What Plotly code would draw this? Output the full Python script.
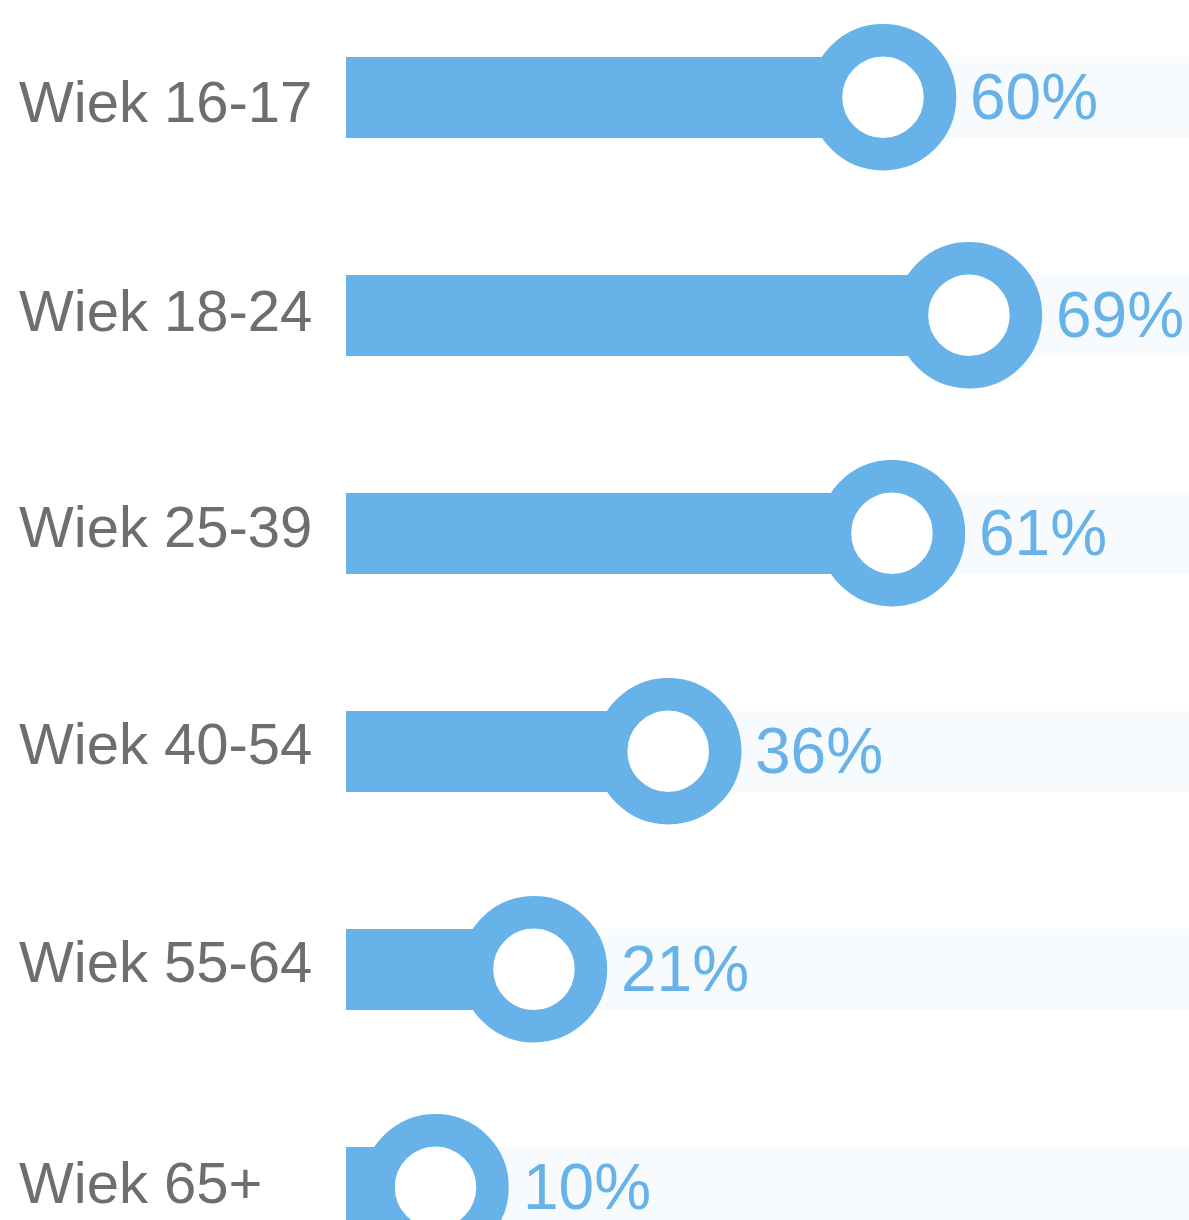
import plotly.graph_objects as go

categories = ["Wiek 16-17", "Wiek 18-24", "Wiek 25-39", "Wiek 40-54", "Wiek 55-64", "Wiek 65+"]
# marker / bar positions (percent)
values = [60, 69.6, 61, 36, 21, 10]
value_labels = ["60%", "69%", "61%", "36%", "21%", "10%"]

BLUE = "#67b2e8"
TRACK = "#f7fbfd"
GREY = "#6e6e6e"

W, H = 1189, 1220
x0_px = 346.0
px_per_unit = 8.95
row0_px = 97.3
row_step = 218.0
label_yshift = [-4.5, 4.5, 7, 8, 8, 5]

x_range = [-x0_px / px_per_unit, (W - x0_px) / px_per_unit]
y_range = [(H - row0_px) / row_step, -row0_px / row_step]
bar_w = 81.0 / row_step

idx = list(range(len(categories)))

fig = go.Figure()
fig.add_trace(go.Bar(
    x=[120] * len(idx), y=idx, base=0, orientation="h", width=bar_w,
    marker=dict(color=TRACK, line=dict(width=0)), hoverinfo="skip", showlegend=False,
))
fig.add_trace(go.Bar(
    x=values, y=idx, base=0, orientation="h", width=bar_w,
    marker=dict(color=BLUE, line=dict(width=0)), hoverinfo="skip", showlegend=False,
))
fig.add_trace(go.Scatter(
    x=values, y=idx, mode="markers",
    marker=dict(size=114, color="white", line=dict(color=BLUE, width=32.5)),
    hoverinfo="skip", showlegend=False, cliponaxis=True,
))

for i, (cat, v, lab) in enumerate(zip(categories, values, value_labels)):
    fig.add_annotation(
        x=17 / W, xref="paper", y=i, yref="y", text=cat, showarrow=False,
        xanchor="left", yanchor="middle", yshift=label_yshift[i],
        font=dict(family="Liberation Sans", size=58, color=GREY),
    )
    fig.add_annotation(
        x=v, xref="x", y=i, yref="y", text=lab, showarrow=False,
        xanchor="left", yanchor="middle", xshift=85, yshift=0.5,
        font=dict(family="Liberation Sans", size=64, color=BLUE),
    )

fig.update_layout(
    width=W, height=H, margin=dict(l=0, r=0, t=0, b=0),
    paper_bgcolor="white", plot_bgcolor="white",
    barmode="overlay", bargap=0,
    xaxis=dict(range=x_range, visible=False, fixedrange=True),
    yaxis=dict(range=y_range, visible=False, fixedrange=True),
)

fig.write_html(
    "out.html",
    config={"displayModeBar": False},
    post_script="document.body.style.margin='0';document.body.style.overflow='hidden';",
)
